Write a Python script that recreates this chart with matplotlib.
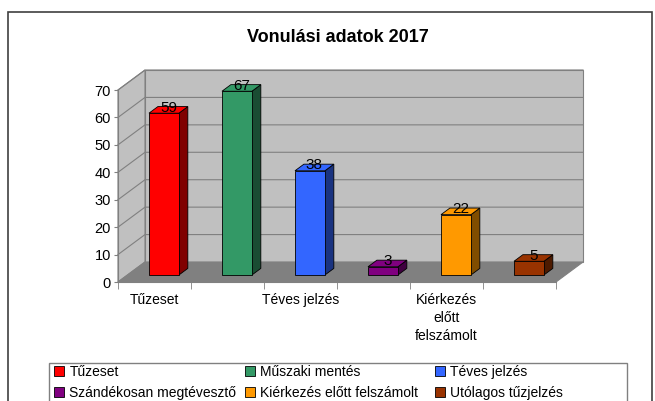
import matplotlib
matplotlib.use("Agg")
import matplotlib.pyplot as plt
from matplotlib.patches import Polygon, Rectangle, Patch
from matplotlib.colors import to_rgb

plt.rcParams['font.family'] = ['Liberation Sans', 'DejaVu Sans']

# data
categories = ['Tűzeset', 'Műszaki mentés', 'Téves jelzés',
              'Szándékosan megtévesztő', 'Kiérkezés előtt felszámolt',
              'Utólagos tűzjelzés']
values = [59, 67, 38, 3, 22, 5]
tick_labels = ['Tűzeset', '', 'Téves jelzés', '', 'Kiérkezés\nelőtt\nfelszámolt', '']
colors = ['#ff0000', '#339966', '#3366ff', '#800080', '#ff9900', '#993300']

W, H = 655, 401
fig = plt.figure(figsize=(W / 100, H / 100), dpi=100)

# outer chart border
fig.patches.append(Rectangle((8 / W, -0.02), 644 / W, 1 - 12 / H + 0.02,
                             transform=fig.transFigure, fill=False,
                             edgecolor='#404040', lw=1.2))

fig.text(338 / W, 1 - 37 / H, 'Vonulási adatok 2017', ha='center', va='center',
         fontsize=13, fontweight='bold')

ax = fig.add_axes([118 / W, 1 - 282 / H, 438 / W, 192 / H])
ax.set_xlim(-0.5, 5.5)
ax.set_ylim(0, 70)
ax.patch.set_visible(False)

# depth of the 3d box, in data units
DX = 27 / 73
DY = 20 / (192 / 70)
f0, f1 = 0.35, 0.68
bw = 0.41
wall = '#c0c0c0'
grid = '#808080'

def poly(pts, **kw):
    p = Polygon(pts, closed=True, clip_on=False, **kw)
    ax.add_patch(p)

# walls and floor
poly([(-0.5 + DX, DY), (5.5 + DX, DY), (5.5 + DX, 70 + DY), (-0.5 + DX, 70 + DY)],
     facecolor=wall, edgecolor=grid, lw=0.8, zorder=0)
poly([(-0.5, 0), (-0.5, 70), (-0.5 + DX, 70 + DY), (-0.5 + DX, DY)],
     facecolor=wall, edgecolor=grid, lw=0.8, zorder=0)
for v in range(10, 71, 10):
    ax.plot([-0.5, -0.5 + DX, 5.5 + DX], [v, v + DY, v + DY],
            color=grid, lw=0.8, clip_on=False, zorder=0.5)
poly([(-0.5, 0), (5.5, 0), (5.5 + DX, DY), (-0.5 + DX, DY)],
     facecolor='#808080', edgecolor='#808080', lw=0.8, zorder=1)

# bars
for i, v in enumerate(values):
    c = to_rgb(colors[i])
    dark = tuple(x * 0.5 for x in c)
    cx = i + f0 * DX
    x0, x1 = cx - bw / 2, cx + bw / 2
    y0 = f0 * DY
    d = f1 - f0
    poly([(x1, y0), (x1 + d * DX, y0 + d * DY), (x1 + d * DX, y0 + v + d * DY), (x1, y0 + v)],
         facecolor=dark, edgecolor='black', lw=0.6, zorder=2)
    poly([(x0, y0 + v), (x1, y0 + v), (x1 + d * DX, y0 + v + d * DY), (x0 + d * DX, y0 + v + d * DY)],
         facecolor=c, edgecolor='black', lw=0.6, zorder=2)
    ax.bar(cx, v, width=bw, bottom=y0, color=c, edgecolor='black', lw=0.6, zorder=3)
    m = (f0 + f1) / 2
    ax.text(i + m * DX, v + m * DY + 0.8, str(v), ha='center', va='center',
            fontsize=11, zorder=4, clip_on=False)

for s in ['top', 'right']:
    ax.spines[s].set_visible(False)
for s in ['left', 'bottom']:
    ax.spines[s].set_color('#808080')
    ax.spines[s].set_zorder(1.5)

ax.set_yticks(range(0, 71, 10))
ax.tick_params(axis='y', length=3, pad=2, labelsize=10.5, color='#808080')
ax.set_xticks(range(6))
ax.set_xticklabels(tick_labels, fontsize=10, linespacing=1.35)
ax.set_xticks([i - 0.5 for i in range(7)], minor=True)
ax.tick_params(axis='x', which='major', length=0, pad=8)
ax.tick_params(axis='x', which='minor', length=5, color='#808080')

# legend box, then one legend per column (filled row by row in the original)
fig.patches.append(Rectangle((49 / W, -0.02), 578 / W, 1 - 363 / H + 0.02,
                             transform=fig.transFigure, fill=False,
                             edgecolor='#808080', lw=1))
col_x = [54, 245, 435]
for j in range(3):
    idx = [j, j + 3]
    handles = [Patch(facecolor=colors[k], edgecolor='black', lw=0.6) for k in idx]
    fig.legend(handles, [categories[k] for k in idx], loc='upper left',
               bbox_to_anchor=(col_x[j] / W, 1 - 365 / H), borderaxespad=0,
               fontsize=10, frameon=False, handlelength=0.7, handleheight=0.7,
               handletextpad=0.4, labelspacing=0.5, borderpad=0)

fig.savefig('out.png', dpi=100, facecolor='white')
